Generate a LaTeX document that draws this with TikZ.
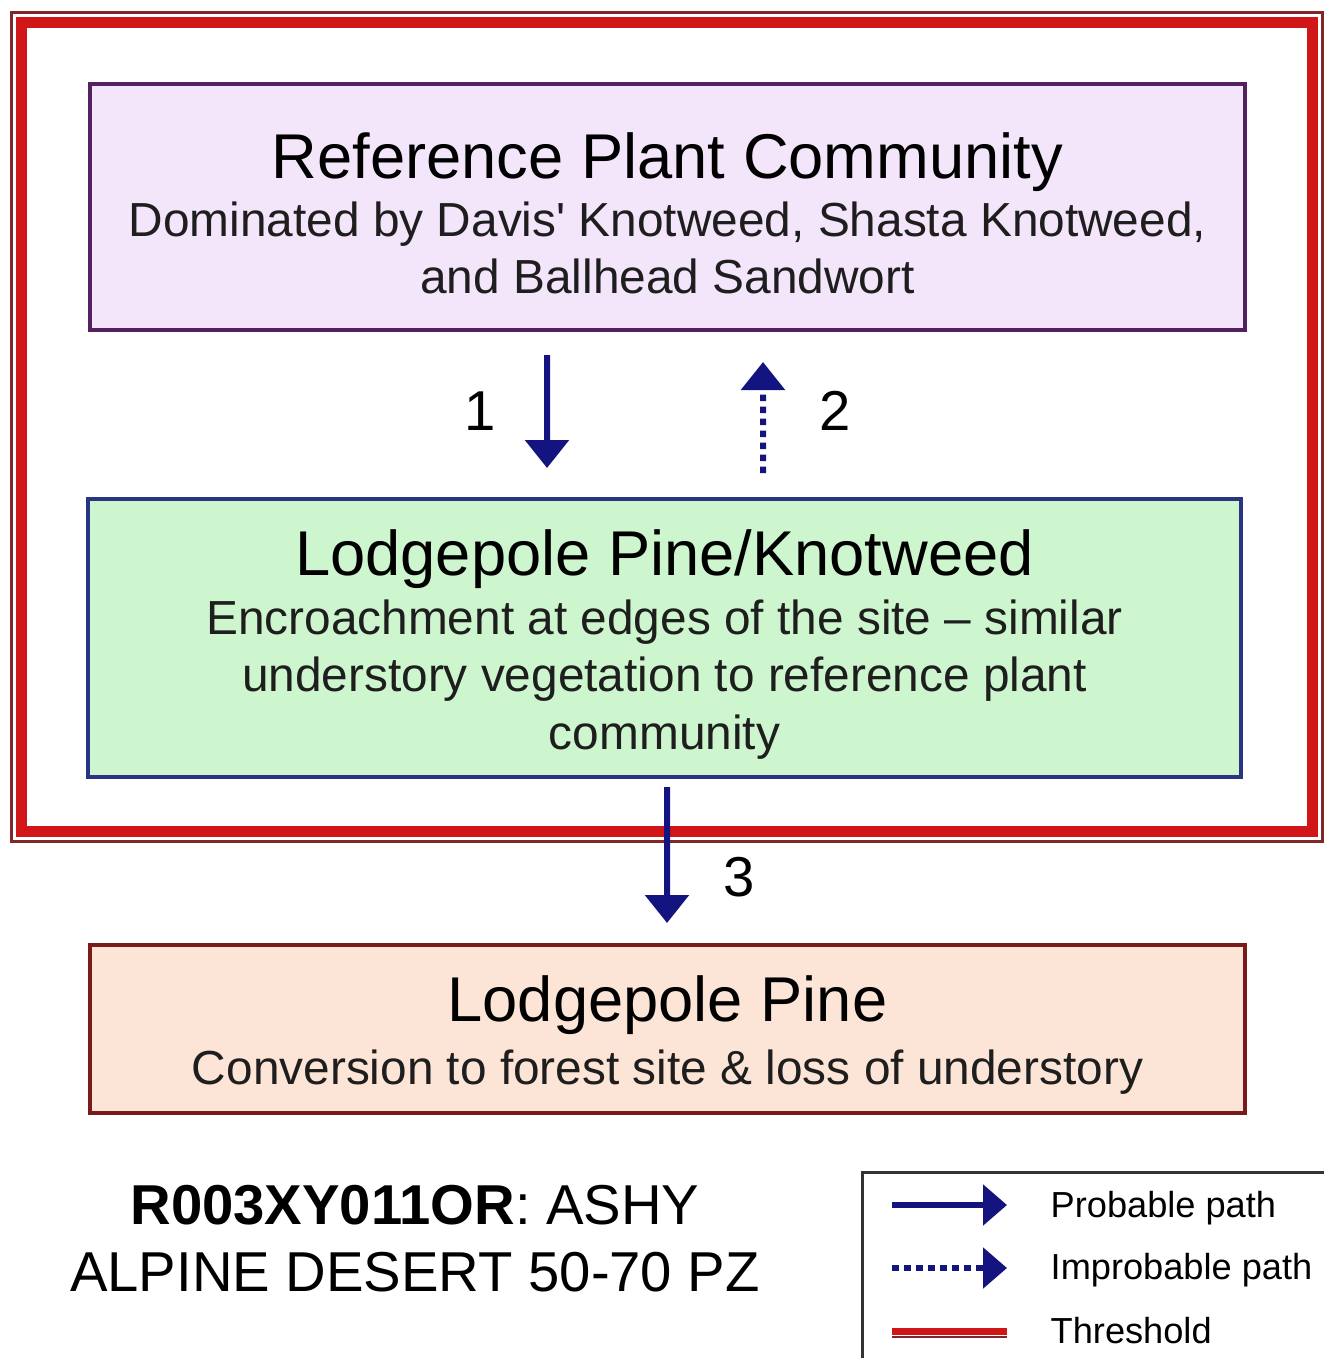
\documentclass[tikz,border=0pt]{standalone}
\usepackage{fontspec}
\setmainfont{Liberation Sans}
\usetikzlibrary{positioning}
\usetikzlibrary{fit}
\usetikzlibrary{arrows.meta}

\definecolor{rpcfill}{RGB}{243,229,250}
\definecolor{rpcline}{RGB}{84,32,96}
\definecolor{lpkfill}{RGB}{206,246,206}
\definecolor{lpkline}{RGB}{42,52,132}
\definecolor{lpfill}{RGB}{252,229,214}
\definecolor{lpline}{RGB}{122,26,26}
\definecolor{pathblue}{RGB}{20,20,128}
\definecolor{thrred}{RGB}{208,22,22}
\definecolor{thrdark}{RGB}{128,40,40}
\definecolor{desctext}{RGB}{30,30,30}

\newcommand{\titlesize}{\fontsize{18}{21}\selectfont}
\newcommand{\descsize}{\fontsize{13.6}{16.3}\selectfont}
% title line with a taller strut so the text block sits a little lower
\newcommand{\titleline}[1]{{\titlesize\color{black}\rule{0pt}{16.6pt}#1}}

\begin{document}
\begin{tikzpicture}[x=0.1mm,y=-0.1mm,
  statebox/.style={rectangle, draw, line width=0.4mm, outer sep=0pt, align=center,
    font=\descsize, text=desctext, minimum width=115.5mm},
  probable/.style={draw=pathblue, line width=0.6mm, -{Triangle[length=2.8mm,width=4.3mm]}},
  improbable/.style={probable, dash pattern=on 0.65mm off 0.55mm},
  num/.style={inner sep=0pt, font=\fontsize{16}{19}\selectfont},
  legendtext/.style={inner sep=0pt, font=\fontsize{10.3}{12}\selectfont}]

\useasboundingbox (0,0) rectangle (1324,1358);
\clip (0,0) rectangle (1324,1358);
\fill[white] (0,0) rectangle (1324,1358);

\node(rpc)[statebox, fill=rpcfill, draw=rpcline, minimum height=24.6mm] at (667.5,207)
  {\titleline{Reference Plant Community}\\[0.3pt]
   Dominated by Davis\textquotesingle\ Knotweed, Shasta Knotweed,\\and Ballhead Sandwort};

\node(lpk)[statebox, fill=lpkfill, draw=lpkline, minimum width=115.3mm, minimum height=27.8mm,
  below=16.9mm of rpc, xshift=-0.3mm]
  {\titleline{Lodgepole Pine/Knotweed}\\[0.5pt]
   Encroachment at edges of the site -- similar\\understory vegetation to reference plant\\community};

\node(lp)[statebox, fill=lpfill, draw=lpline, minimum height=16.8mm,
  below=16.8mm of lpk, xshift=0.3mm]
  {\titleline{Lodgepole Pine}\\[1.5pt]
   Conversion to forest site \& loss of understory};

\node(threshold)[fit=(rpc)(lpk), inner xsep=6.7mm, inner ysep=5.8mm, yshift=0.4mm,
  outer sep=0pt, draw=thrred, line width=1.1mm]{};
\draw[thrdark, line width=0.3mm]([shift={(-1mm,1mm)}]threshold.north west) rectangle
  ([shift={(1mm,-1mm)}]threshold.south east);

\draw[probable]([xshift=-12.05mm,yshift=-2.5mm]rpc.south)--([xshift=-11.75mm,yshift=3.1mm]lpk.north)
  node(lab1)[num, midway, left=4.8mm]{1};
\draw[improbable]([xshift=9.85mm,yshift=2.6mm]lpk.north)--([xshift=9.55mm,yshift=-3.2mm]rpc.south)
  node(lab2)[num, midway, right=5.3mm, yshift=0.7mm]{2};
\draw[probable]([xshift=0.25mm,yshift=-1mm]lpk.south)--([xshift=-0.05mm,yshift=2.2mm]lp.north)
  node(lab3)[num, midway, right=5.3mm, yshift=-2.2mm]{3};

\node(site)[below=7.2mm of lp.south west, xshift=32.5mm, align=center, inner sep=0pt,
  font=\fontsize{16}{19}\selectfont]{\textbf{R003XY011OR}: ASHY\\ALPINE DESERT 50-70 PZ};

\node(legend)[draw=black!80, line width=0.3mm, outer sep=0pt, anchor=north west,
  minimum width=50mm, minimum height=22mm] at (862,1172){};
\draw[probable, line width=0.55mm, -{Triangle[length=2.4mm,width=4mm]}]
  ([xshift=3mm,yshift=-3.3mm]legend.north west)--([xshift=14.5mm,yshift=-3.3mm]legend.north west);
\draw[improbable, line width=0.55mm, -{Triangle[length=2.4mm,width=4mm]}]
  ([xshift=3mm,yshift=-9.6mm]legend.north west)--([xshift=14.5mm,yshift=-9.6mm]legend.north west);
\draw[thrred, line width=0.7mm]
  ([xshift=3mm,yshift=-15.9mm]legend.north west)--([xshift=14.5mm,yshift=-15.9mm]legend.north west);
\draw[thrdark, line width=0.25mm]
  ([xshift=3mm,yshift=-16.5mm]legend.north west)--([xshift=14.5mm,yshift=-16.5mm]legend.north west);
\node(probtext)[legendtext, right=18.8mm of legend.north west, yshift=-3.6mm]{Probable path};
\node(improbtext)[legendtext, right=18.8mm of legend.north west, yshift=-9.8mm]{Improbable path};
\node(thrtext)[legendtext, right=18.8mm of legend.north west, yshift=-15.9mm]{Threshold};

\end{tikzpicture}
\end{document}
